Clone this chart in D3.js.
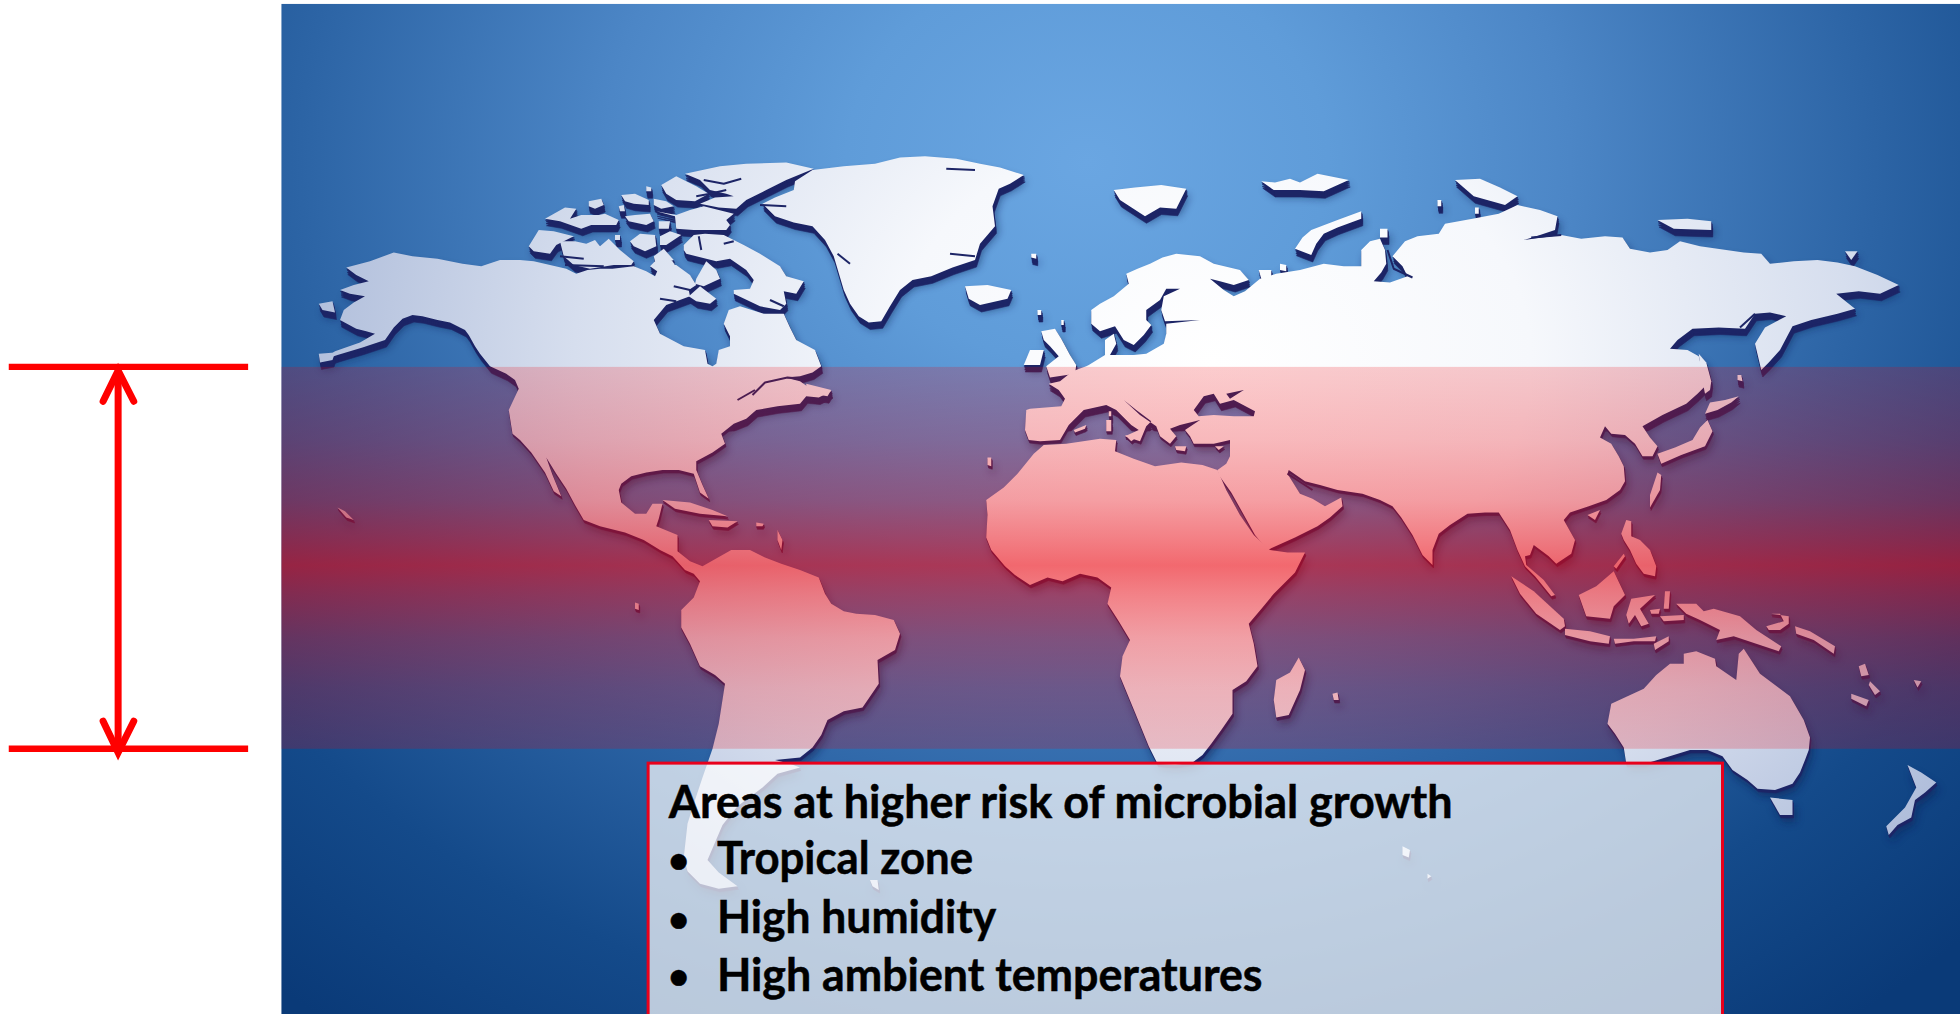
<!DOCTYPE html>
<html><head><meta charset="utf-8">
<script src="https://cdn.jsdelivr.net/npm/d3@7"></script>
<style>html,body{margin:0;padding:0;background:#fff;overflow:hidden}svg{display:block}</style>
</head><body><svg id="c" width="1960" height="1014"></svg>
<script>
// Outlines, in reference-map units (0..1568 x 0..811)
const northAmerica=[[277,214],[296,209],[315,202],[330,205],[350,207],[370,211],[385,213],[400,208],[416,208],[427,209],[440,212],[453,215],[461,219],[470,216],[480,215],[490,215],[507,213],[517,217],[524,221],[528,212],[541,212],[552,220],[557,228],[551,232],[552,237],[533,244],[523,256],[528,267],[547,277],[564,280],[566,291],[570,293],[573,291],[575,280],[584,277],[584,269],[579,259],[583,248],[592,245],[611,251],[627,251],[632,262],[637,272],[652,280],[657,293],[650,298],[640,301],[628,302],[640,305],[650,312],[665,313],[655,318],[645,317],[640,323],[622,325],[605,328],[597,335],[587,339],[577,347],[580,355],[570,362],[557,369],[557,376],[562,388],[567,399],[560,394],[555,379],[543,376],[530,376],[517,378],[505,381],[497,387],[495,392],[497,402],[508,411],[517,411],[522,403],[530,403],[527,415],[525,421],[542,428],[542,441],[552,449],[562,453],[585,440],[600,440],[612,446],[625,451],[640,456],[655,462],[660,475],[665,483],[675,489],[685,491],[700,492],[715,496],[720,507],[716,520],[702,528],[703,547],[690,566],[675,569],[662,576],[657,588],[650,598],[640,606],[620,608],[632,611],[640,614],[622,619],[610,630],[590,645],[578,660],[566,688],[575,698],[590,709],[575,711],[560,707],[550,697],[547,686],[550,659],[556,640],[562,622],[570,599],[575,579],[580,547],[572,540],[560,533],[552,515],[545,502],[545,488],[555,478],[560,465],[555,459],[548,456],[538,445],[528,440],[515,432],[500,426],[480,421],[467,416],[460,404],[453,391],[445,379],[437,366],[442,380],[449,397],[443,393],[436,378],[425,362],[416,352],[410,347],[407,328],[415,311],[412,304],[405,299],[392,293],[384,283],[380,277],[375,268],[372,264],[360,258],[350,256],[338,253],[330,252],[322,255],[315,262],[308,272],[290,278],[270,284],[258,288],[268,281],[288,274],[300,267],[293,265],[285,263],[272,256],[275,248],[283,242],[292,237],[280,235],[272,232],[283,228],[295,225],[285,220]];
const eurasia=[[873,248],[880,243],[891,237],[903,227],[901,219],[910,215],[920,211],[930,206],[941,203],[960,205],[971,211],[992,216],[999,224],[987,228],[976,225],[968,223],[979,232],[987,237],[996,233],[1008,223],[1021,219],[1040,216],[1059,211],[1075,213],[1089,213],[1089,200],[1096,193],[1104,191],[1108,200],[1109,211],[1105,218],[1099,225],[1112,226],[1126,221],[1122,213],[1114,205],[1124,193],[1134,189],[1151,187],[1156,179],[1178,175],[1199,171],[1214,164],[1232,168],[1246,173],[1244,184],[1232,188],[1219,192],[1249,188],[1265,191],[1284,189],[1298,190],[1304,199],[1320,202],[1334,200],[1344,193],[1360,197],[1374,199],[1395,202],[1409,203],[1416,211],[1435,209],[1454,208],[1470,210],[1484,213],[1502,220],[1519,228],[1504,235],[1487,233],[1469,235],[1484,247],[1470,251],[1449,256],[1434,261],[1424,280],[1415,290],[1409,296],[1404,275],[1412,262],[1429,253],[1416,250],[1404,251],[1396,263],[1375,262],[1354,263],[1342,272],[1336,279],[1350,280],[1359,285],[1362,298],[1366,307],[1358,315],[1349,323],[1330,332],[1314,341],[1320,350],[1326,357],[1322,365],[1314,365],[1308,355],[1300,348],[1289,347],[1284,341],[1280,350],[1289,355],[1295,365],[1299,373],[1300,385],[1296,392],[1285,400],[1271,405],[1256,410],[1251,416],[1260,432],[1257,443],[1245,451],[1239,445],[1227,436],[1224,444],[1220,445],[1221,452],[1235,464],[1244,476],[1241,477],[1228,461],[1220,453],[1214,440],[1208,424],[1199,410],[1188,410],[1174,411],[1160,420],[1151,427],[1146,440],[1146,452],[1138,444],[1130,428],[1121,414],[1114,405],[1104,400],[1090,395],[1070,392],[1056,388],[1044,385],[1031,376],[1030,379],[1040,395],[1050,399],[1060,405],[1073,398],[1074,405],[1064,414],[1054,421],[1036,430],[1014,440],[1004,428],[994,410],[985,394],[975,380],[974,376],[981,371],[984,365],[984,352],[971,355],[955,355],[952,349],[948,344],[960,336],[944,340],[936,343],[941,349],[936,355],[928,349],[925,341],[912,332],[899,320],[909,328],[921,337],[917,341],[912,353],[900,349],[911,344],[905,340],[893,328],[885,324],[867,328],[855,340],[848,352],[832,353],[823,352],[820,344],[821,328],[824,327],[849,325],[852,319],[847,312],[839,307],[848,305],[858,297],[869,293],[871,292],[884,284],[884,272],[891,267],[893,275],[888,284],[907,284],[917,283],[931,275],[933,267],[933,259],[960,256],[932,257],[929,248],[931,237],[944,231],[933,231],[928,240],[917,248],[917,256],[921,260],[915,268],[907,276],[899,272],[892,261],[880,265],[873,259]];
const seas=[[[955,328],[963,317],[971,315],[976,323],[987,320],[1004,329],[1003,333],[987,333],[971,332],[959,333]],[[981,315],[995,312],[984,319]]];
const africa=[[974,376],[981,392],[992,412],[1003,428],[1016,440],[1030,442],[1044,442],[1036,458],[1028,466],[1019,475],[1010,486],[999,499],[1003,515],[1006,533],[997,545],[986,552],[986,571],[977,584],[969,595],[962,604],[954,610],[940,612],[926,611],[919,597],[908,570],[896,541],[898,525],[904,512],[895,497],[886,483],[889,470],[878,462],[864,459],[850,465],[838,462],[824,468],[812,460],[804,453],[793,440],[789,430],[790,412],[789,400],[803,390],[814,379],[827,363],[835,356],[853,355],[880,351],[893,352],[892,361],[907,367],[924,373],[945,370],[962,372]];
const islands=[
 // Canadian Arctic
 [[423,197],[431,184],[443,185],[459,189],[445,196],[440,203],[427,201]],
 [[448,193],[460,193],[469,195],[476,192],[480,197],[487,191],[496,200],[507,209],[505,212],[491,212],[472,215],[459,212],[451,205]],
 [[436,175],[452,166],[461,167],[456,175],[465,172],[479,172],[484,171],[495,176],[493,180],[473,180],[465,183],[448,177]],
 [[471,161],[481,159],[483,164],[476,167],[471,165]],
 [[497,156],[508,155],[519,160],[519,164],[507,163],[500,161]],
 [[517,149],[521,150],[521,153],[517,153]],
 [[495,165],[499,164],[500,169],[496,169]],
 [[500,173],[508,172],[520,171],[523,177],[517,180],[503,177]],
 [[523,159],[533,161],[539,165],[529,167],[523,164]],
 [[529,148],[541,141],[557,149],[567,155],[556,161],[541,160],[533,155]],
 [[548,139],[576,133],[597,131],[629,130],[651,135],[629,144],[613,152],[597,160],[589,167],[575,166],[560,163],[572,158],[587,157],[581,155],[568,152],[560,144]],
 [[525,169],[541,172],[552,168],[563,165],[587,171],[581,176],[584,180],[581,184],[555,184],[541,183],[540,173]],
 [[527,177],[536,177],[535,183],[527,183]],
 [[504,193],[512,187],[524,188],[525,197],[516,201],[507,197]],
 [[528,189],[536,185],[545,188],[533,196],[528,196]],
 [[523,205],[531,199],[539,208],[531,211],[524,209]],
 [[492,188],[496,188],[496,192],[492,192]],
 [[547,196],[555,188],[564,187],[579,188],[595,196],[608,203],[624,213],[629,221],[643,225],[637,235],[627,233],[629,243],[624,248],[608,245],[587,235],[587,232],[600,231],[603,224],[597,216],[584,207],[573,209],[549,203],[547,200]],
 [[551,237],[560,229],[573,239],[568,243],[557,241]],
 [[557,223],[565,209],[573,216],[576,223],[563,229],[556,227]],
 [[520,213],[528,205],[538,209],[545,220],[530,220]],
 [[255,283],[268,282],[266,288],[256,290]],
 [[255,243],[266,241],[268,250],[258,248]],
 // Greenland, Iceland, Norwegian and Russian Arctic
 [[650,136],[675,133],[700,131],[720,126],[740,125],[765,127],[784,131],[800,134],[819,140],[808,147],[799,151],[794,165],[796,181],[784,195],[780,208],[762,214],[745,221],[730,224],[720,232],[712,245],[705,257],[695,258],[687,253],[680,243],[675,232],[667,205],[660,192],[650,181],[635,178],[620,173],[610,163],[620,158],[635,152],[636,145]],
 [[772,229],[790,228],[809,232],[806,239],[784,244],[775,239]],
 [[891,152],[908,150],[929,148],[949,151],[941,167],[928,166],[916,173],[896,160]],
 [[1009,145],[1020,146],[1032,143],[1040,146],[1054,139],[1079,144],[1059,153],[1040,152],[1019,152]],
 [[1164,144],[1184,143],[1200,150],[1214,157],[1204,164],[1179,157]],
 [[1036,199],[1042,190],[1049,184],[1070,176],[1089,169],[1089,175],[1070,182],[1059,187],[1053,195],[1049,204]],
 [[1326,176],[1350,175],[1369,177],[1369,184],[1339,183]],
 [[1476,201],[1486,201],[1481,208]],
 [[1104,183],[1110,183],[1110,190],[1104,190]],
 [[1007,216],[1017,216],[1017,223],[1009,223]],
 [[1024,211],[1029,212],[1029,217],[1024,216]],
 [[825,203],[829,203],[829,207],[825,206]],
 [[830,248],[833,248],[833,252],[830,252]],
 [[849,256],[851,256],[851,260],[849,260]],
 [[1150,160],[1153,160],[1153,165],[1150,165]],
 [[1180,166],[1183,166],[1183,171],[1180,171]],
 // British Isles, Mediterranean
 [[833,265],[844,263],[849,271],[856,284],[861,292],[860,299],[840,302],[837,293],[847,285],[840,277],[835,272]],
 [[819,292],[824,280],[835,280],[832,292]],
 [[885,336],[889,336],[889,345],[885,345]],
 [[887,329],[889,329],[889,333],[887,333]],
 [[859,344],[869,340],[868,343],[860,346]],
 [[900,348],[909,350],[905,353]],
 [[940,357],[949,357],[948,361],[941,360]],
 [[972,357],[979,357],[975,360]],
 // Caribbean, Pacific specks
 [[530,400],[552,402],[570,408],[582,413],[560,411],[540,407]],
 [[567,416],[590,417],[582,422],[570,421]],
 [[605,418],[611,419],[610,421],[605,421]],
 [[622,424],[626,432],[625,440],[622,432]],
 [[270,406],[276,409],[283,416],[277,414]],
 [[508,482],[511,483],[511,488],[508,487]],
 [[645,307],[665,312],[662,317],[645,314]],
 [[696,704],[702,704],[703,712],[698,709]],
 [[1122,677],[1128,680],[1127,686],[1122,684]],
 [[1142,699],[1145,701],[1142,703]],
 [[1066,555],[1070,554],[1071,560],[1067,560]],
 [[790,366],[793,366],[793,373],[790,372]],
 // Madagascar, East Asia, Japan
 [[1039,526],[1044,536],[1040,552],[1031,572],[1021,574],[1019,560],[1021,544],[1032,538]],
 [[1359,283],[1365,290],[1369,305],[1368,312],[1364,315],[1361,300]],
 [[1391,317],[1385,322],[1374,328],[1364,331],[1368,322],[1380,320]],
 [[1366,336],[1370,345],[1364,357],[1345,364],[1329,371],[1326,363],[1340,358],[1354,352],[1360,342]],
 [[1326,378],[1329,380],[1328,392],[1320,406],[1320,396]],
 [[1270,412],[1280,408],[1276,416]],
 [[1390,300],[1393,300],[1394,305],[1390,304]],
 // South-East Asia and Oceania
 [[1297,427],[1301,416],[1305,417],[1305,429],[1312,432],[1320,440],[1325,453],[1324,461],[1315,459],[1309,451],[1304,440],[1299,432]],
 [[1291,453],[1299,443],[1300,445],[1293,455]],
 [[1263,476],[1277,469],[1291,457],[1300,476],[1291,485],[1288,495],[1269,493]],
 [[1209,461],[1227,473],[1251,495],[1252,501],[1248,504],[1229,491],[1216,475]],
 [[1252,503],[1272,505],[1288,509],[1287,515],[1272,513],[1252,508]],
 [[1291,511],[1307,511],[1325,509],[1324,513],[1307,513],[1292,515]],
 [[1323,515],[1335,509],[1335,513],[1324,520]],
 [[1305,479],[1324,476],[1312,487],[1319,499],[1313,501],[1308,492],[1303,499],[1301,492]],
 [[1332,473],[1336,473],[1335,487],[1331,487]],
 [[1320,488],[1328,487],[1327,491],[1321,491]],
 [[1328,493],[1347,492],[1347,496],[1331,497]],
 [[1341,483],[1357,483],[1363,489],[1371,487],[1392,493],[1405,504],[1425,517],[1423,521],[1405,515],[1387,509],[1373,512],[1376,504],[1360,496],[1349,491]],
 [[1413,501],[1427,497],[1424,491],[1417,491],[1431,493],[1431,499],[1424,504],[1415,504]],
 [[1436,501],[1448,505],[1468,517],[1467,523],[1451,512],[1437,507]],
 [[1487,533],[1492,531],[1495,540],[1489,541]],
 [[1496,545],[1504,553],[1500,556],[1495,548]],
 [[1481,555],[1495,560],[1493,565],[1481,559]],
 [[1531,544],[1537,545],[1534,550]],
 // Australia and New Zealand
 [[1289,563],[1315,551],[1325,540],[1336,531],[1347,531],[1347,523],[1357,521],[1372,527],[1373,533],[1389,544],[1391,523],[1395,519],[1408,539],[1432,557],[1443,576],[1448,590],[1447,600],[1444,608],[1440,618],[1434,627],[1420,632],[1406,631],[1398,624],[1386,616],[1378,605],[1366,600],[1352,600],[1339,604],[1326,608],[1316,611],[1301,611],[1299,598],[1292,587],[1286,579]],
 [[1416,638],[1434,640],[1434,652],[1424,652]],
 [[1526,612],[1537,618],[1549,626],[1540,634],[1532,640],[1529,654],[1518,660],[1511,668],[1509,661],[1518,652],[1524,646],[1533,630]]
];
const cracks=[[[602,316],[612,306],[630,302],[640,303]],[[590,320],[604,312]],[[563,144],[579,147],[593,143]],[[557,157],[568,155],[581,152]],[[448,205],[467,207]],[[452,212],[483,213]],[[559,189],[561,200]],[[579,195],[587,193]],[[528,239],[541,241]],[[539,229],[552,232]],[[616,240],[627,245]],[[608,164],[629,165]],[[757,135],[780,136]],[[760,203],[780,205]],[[670,203],[680,211]],[[1249,188],[1225,190]],[[1110,200],[1115,215],[1130,222]],[[1404,251],[1392,262]],[[1030,379],[1050,392]]];
const bandTop=293.5, bandBottom=599;
const bandAlpha=[[0,.2],[.19,.27],[.35,.37],[.45,.49],[.52,.58],[.595,.48],[.71,.35],[.84,.26],[1,.2]];
const skyStops=[[0,"#6aa6e2"],[.19,"#5f9cd9"],[.38,"#4c86c6"],[.62,"#2c64a5"],[.82,"#144a8a"],[1,"#0a3a78"]];
const landStops=[[0,"#ffffff"],[.35,"#f6f8fc"],[.7,"#d6deee"],[1,"#b0bedb"]];
const arrowRules=[[7,198.5]];
const arrowX=94.5, arrowHead=[[82.5,321],[94.5,296.5],[107,321]], arrowHeadDown=[[82.5,577],[94.5,602],[107,577]];
const picture={x0:225,x1:1568,y0:3,y1:811.2};
const boxArea={x0:518.5,x1:1378,y0:610.5,y1:815};
const heading="Areas at higher risk of microbial growth";
const bullets=["Tropical zone","High humidity","High ambient temperatures"];
const baselines=[654.5,699,746.5,792.5];
const textEnds=[1162,778.5,797,1010];

const x=d3.scaleLinear().domain([0,1568]).range([0,1960]);
const y=d3.scaleLinear().domain([0,811.2]).range([0,1014]);
const svg=d3.select("#c");
const defs=svg.append("defs");
const line=d3.line().x(d=>x(d[0])).y(d=>y(d[1]));
const closed=p=>line(p)+"Z";
const cx=x(870),cy=y(130);
const sky=defs.append("radialGradient").attr("id","sky").attr("gradientUnits","userSpaceOnUse")
  .attr("cx",0).attr("cy",0).attr("r",1)
  .attr("gradientTransform",`translate(${cx},${cy}) scale(1270,1072)`);
skyStops.forEach(s=>sky.append("stop").attr("offset",s[0]).attr("stop-color",s[1]));
const land=defs.append("radialGradient").attr("id","land").attr("gradientUnits","userSpaceOnUse")
  .attr("cx",0).attr("cy",0).attr("r",1)
  .attr("gradientTransform",`translate(${x(970)},${y(290)}) scale(${x(730)},${y(560)})`);
landStops.forEach(s=>land.append("stop").attr("offset",s[0]).attr("stop-color",s[1]));
const band=defs.append("linearGradient").attr("id","band").attr("x1",0).attr("x2",0).attr("y1",0).attr("y2",1);
bandAlpha.forEach(s=>band.append("stop").attr("offset",s[0]).attr("stop-color","#ee0008").attr("stop-opacity",s[1]));
defs.append("filter").attr("id","soft").attr("x","-5%").attr("y","-5%").attr("width","110%").attr("height","110%")
  .append("feGaussianBlur").attr("stdDeviation",4);
defs.append("clipPath").attr("id","pic").append("rect")
  .attr("x",x(picture.x0)).attr("y",y(picture.y0)).attr("width",x(picture.x1)-x(picture.x0)).attr("height",y(picture.y1)-y(picture.y0));
defs.append("clipPath").attr("id","north").append("rect")
  .attr("x",x(picture.x0)).attr("y",y(picture.y0)).attr("width",x(picture.x1)-x(picture.x0)).attr("height",y(345)-y(picture.y0));

const rectOf=(g,a)=>g.append("rect").attr("x",x(a.x0)).attr("y",y(a.y0)).attr("width",x(a.x1)-x(a.x0)).attr("height",y(a.y1)-y(a.y0));
const pic=svg.append("g").attr("clip-path","url(#pic)");
rectOf(pic,picture).attr("fill","url(#sky)");

const allLand=[northAmerica,africa,...islands];
const landPaths=[closed(eurasia)+seas.map(closed).join(""),...allLand.map(closed)];
pic.append("g").attr("filter","url(#soft)").attr("transform","translate(3,7)").attr("opacity",.55)
  .selectAll("path").data(landPaths).join("path").attr("d",d=>d).attr("fill","#0d1a50").attr("fill-rule","evenodd");
[[1.5,7,"north"],[1,5,"north"],[1,3,null],[.5,1.5,null]].forEach(o=>{
  const g=pic.append("g"); if(o[2]) g.attr("clip-path",`url(#${o[2]})`);
  g.append("g").attr("transform",`translate(${o[0]},${o[1]})`)
   .selectAll("path").data(landPaths).join("path").attr("d",d=>d).attr("fill","#1d2566").attr("stroke","#1d2566").attr("stroke-width",.6).attr("fill-rule","evenodd");
});
pic.append("g").selectAll("path").data(landPaths).join("path").attr("d",d=>d)
  .attr("fill","url(#land)").attr("fill-rule","evenodd");
pic.append("g").selectAll("path").data(cracks).join("path").attr("d",line)
  .attr("fill","none").attr("stroke","#1d2566").attr("stroke-width",2).attr("stroke-linejoin","round");
rectOf(pic,{x0:picture.x0,x1:picture.x1,y0:bandTop,y1:bandBottom}).attr("fill","url(#band)");

// Info box
const boxG=svg.append("g").attr("clip-path","url(#pic)");
rectOf(boxG,boxArea).attr("fill","#ffffff").attr("fill-opacity",.71).attr("stroke","#e8001c").attr("stroke-width",3);
const tx=svg.append("g").attr("font-family","Lato, 'Open Sans', sans-serif").attr("font-weight",700).attr("font-size",45).attr("fill","#000").attr("stroke","#000").attr("stroke-width",.5);
const t=(s,xx,yy,end)=>{const e=tx.append("text").attr("x",x(xx)).attr("y",y(yy)).text(s);
  if(end) e.attr("textLength",x(end)-x(xx)).attr("lengthAdjust","spacingAndGlyphs");return e;};
t(heading,535,baselines[0],textEnds[0]);
bullets.forEach((b,i)=>{t("•",534.5,baselines[i+1]-1).attr("font-size",36);t(b,573.5,baselines[i+1],textEnds[i+1]);});

// Red span marker
const ar=svg.append("g").attr("fill","none").attr("stroke","#ff0000");
[bandTop,bandBottom].forEach(v=>ar.append("line").attr("x1",x(arrowRules[0][0])).attr("x2",x(arrowRules[0][1])).attr("y1",y(v)).attr("y2",y(v)).attr("stroke-width",6.3));
ar.append("line").attr("x1",x(arrowX)).attr("x2",x(arrowX)).attr("y1",y(arrowHead[1][1])).attr("y2",y(arrowHeadDown[1][1])).attr("stroke-width",7);
[arrowHead,arrowHeadDown].forEach(h=>ar.append("path").attr("d",line(h)).attr("stroke-width",7).attr("stroke-linecap","round").attr("stroke-linejoin","miter"));
</script></body></html>
